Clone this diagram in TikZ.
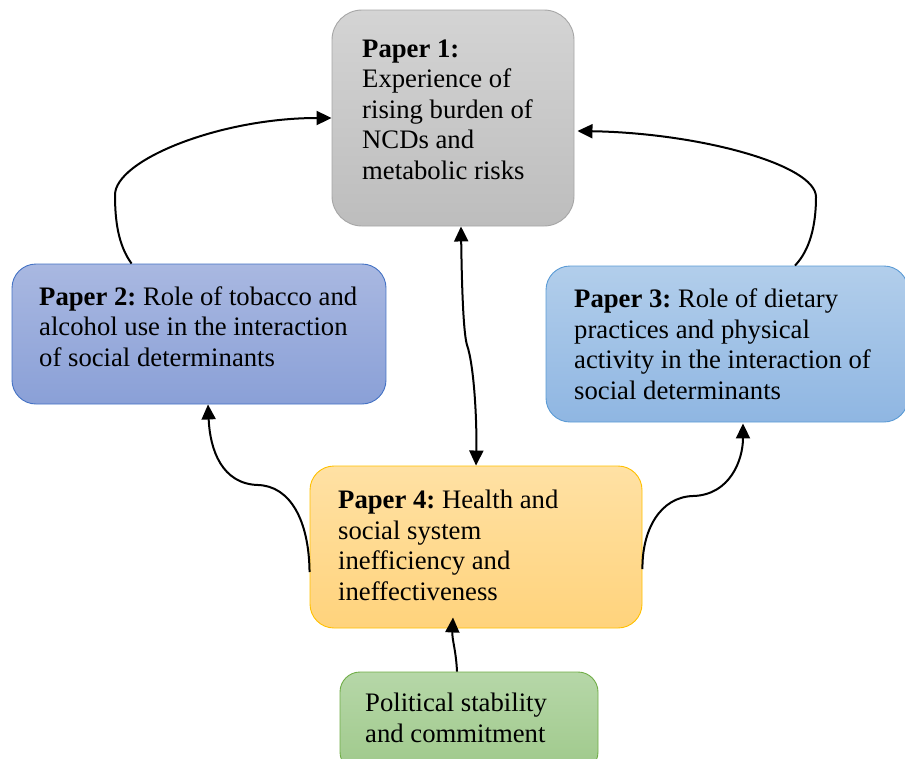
\documentclass[tikz,border=0pt]{standalone}
\usepackage{fontspec}
\setmainfont{Liberation Serif}
\usetikzlibrary{arrows.meta}
\frenchspacing

% box fills (top and bottom of the vertical gradient) and outlines
\definecolor{grayTop}{HTML}{D4D4D4}
\definecolor{grayBot}{HTML}{BDBDBD}
\definecolor{grayLine}{HTML}{A6A6A6}
\definecolor{indigoTop}{HTML}{A9B8E1}
\definecolor{indigoBot}{HTML}{8AA0D7}
\definecolor{indigoLine}{HTML}{4472C4}
\definecolor{skyTop}{HTML}{B2CEEB}
\definecolor{skyBot}{HTML}{8FB6E2}
\definecolor{skyLine}{HTML}{5B9BD5}
\definecolor{amberTop}{HTML}{FFE1A4}
\definecolor{amberBot}{HTML}{FFD37C}
\definecolor{amberLine}{HTML}{FFC000}
\definecolor{leafTop}{HTML}{B6D7A8}
\definecolor{leafBot}{HTML}{9FC98B}
\definecolor{leafLine}{HTML}{70AD47}

\begin{document}
\begin{tikzpicture}[x=1pt, y=-1pt,
  box/.style={line width=0.9pt, inner sep=0pt, rounded corners=24pt},
  % texts are placed by the baseline of their last line
  txt/.style={inner sep=0pt, align=left, anchor=base west, text=black,
    font=\fontsize{26.7pt}{30.5pt}\selectfont},
  tip/.tip={Triangle[length=15pt,width=14pt]},
  link/.style={line width=2pt, -tip},
  dlink/.style={line width=2pt, tip-tip},
]
\useasboundingbox (0,0) rectangle (905,758);

% boxes
\node[box, rounded corners=30pt, draw=grayLine, top color=grayTop, bottom color=grayBot,
  minimum width=242pt, minimum height=216pt] (p1) at (453,118) {};
\node[box, draw=indigoLine, top color=indigoTop, bottom color=indigoBot,
  minimum width=374pt, minimum height=140pt] (p2) at (199,334) {};
\node[box, draw=skyLine, top color=skyTop, bottom color=skyBot,
  minimum width=362pt, minimum height=156pt] (p3) at (727,344) {};
\node[box, draw=amberLine, top color=amberTop, bottom color=amberBot,
  minimum width=332pt, minimum height=162pt] (p4) at (476,547) {};
\node[box, rounded corners=20pt, draw=leafLine, top color=leafTop, bottom color=leafBot,
  minimum width=258pt, minimum height=100pt] (pol) at (469,722) {};

% box texts
\node[txt] (p1t) at (362,179) {\textbf{Paper 1:}\\Experience of\\rising burden of\\NCDs and\\metabolic risks};
\node[txt] (p2t) at (39,366) {\textbf{Paper 2:} Role of tobacco and\\alcohol use in the interaction\\of social determinants};
\node[txt] (p3t) at (574,399) {\textbf{Paper 3:} Role of dietary\\practices and physical\\activity in the interaction of\\social determinants};
\node[txt] (p4t) at (338,600) {\textbf{Paper 4:} Health and\\social system\\inefficiency and\\ineffectiveness};
\node[txt] (polt) at (365,742) {Political stability\\and commitment};

% connectors
\draw[link] ([xshift=120pt]p2.north west) .. controls (118,245) and (115,220) .. (115,195)
  .. controls (115,160) and (220,118) .. (p1.west);
\draw[link] ([xshift=68pt]p3.north) .. controls (810,250) and (816,225) .. (816,197)
  .. controls (816,165) and (700,133) .. ([xshift=3pt,yshift=-13pt]p1.east);
\draw[dlink] ([xshift=8pt]p1.south) .. controls (462,300) and (464,335) .. (467,345)
  .. controls (474,365) and (477,420) .. (p4.north);
\draw[link] ([yshift=-25pt]p4.west) .. controls (309,520) and (290,486) .. (258,485)
  .. controls (222,484) and (210,450) .. ([xshift=9pt]p2.south);
\draw[link] ([yshift=-22pt]p4.east) .. controls (642,530) and (660,497) .. (693,496)
  .. controls (730,495) and (743,460) .. ([xshift=16pt,yshift=-1pt]p3.south);
\draw[link] ([xshift=-12pt]pol.north) .. controls (456,650) and (452,640) .. ([xshift=-23pt,yshift=11pt]p4.south);
\end{tikzpicture}
\end{document}
